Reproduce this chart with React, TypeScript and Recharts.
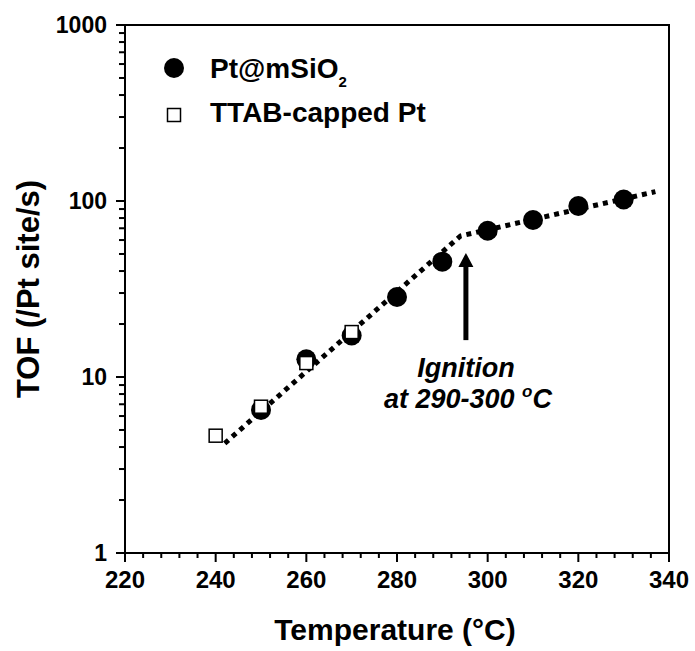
import React from 'react';
import {
  ComposedChart, XAxis, YAxis, Line, Scatter, ReferenceArea, ReferenceDot, Legend,
} from 'recharts';

// ---- data ----
const circleTemps = [250, 260, 270, 280, 290, 300, 310, 320, 330];
const circleTOF = [6.5, 12.6, 17.2, 28.5, 45.2, 67.8, 78, 93.7, 102];
const squareTemps = [240, 250, 260, 270];
const squareTOF = [4.64, 6.78, 12.0, 18.0];
const fitTemps = [242, 294, 337];
const fitTOF = [4.2, 63.3, 113];
const arrowTemps = [295.2, 295.2];
const arrowTOF = [16.2, 43];
const arrowTipTOF = 50.7;
const annotTemp = 295.2;
const annotTOF = [10, 6.67];

const xMajorTicks = [220, 240, 260, 280, 300, 320, 340];
const xAllTicks = [220, 224, 228, 232, 236, 240, 244, 248, 252, 256, 260, 264, 268, 272, 276, 280, 284, 288, 292, 296, 300, 304, 308, 312, 316, 320, 324, 328, 332, 336, 340];
const yMajorTicks = [1, 10, 100, 1000];
const yAllTicks = [1, 2, 3, 4, 5, 6, 7, 8, 9, 10, 20, 30, 40, 50, 60, 70, 80, 90, 100, 200, 300, 400, 500, 600, 700, 800, 900, 1000];

const seriesNames = ['Pt@mSiO', 'TTAB-capped Pt'];
const xTitle = 'Temperature (°C)';
const yTitle = 'TOF (/Pt site/s)';

const circleData = circleTemps.map((t, i) => ({ t, v: circleTOF[i] }));
const squareData = squareTemps.map((t, i) => ({ t, v: squareTOF[i] }));
const fitData = fitTemps.map((t, i) => ({ t, v: fitTOF[i] }));
const arrowData = arrowTemps.map((t, i) => ({ t, v: arrowTOF[i] }));
const arrowTipData = [{ t: annotTemp, v: arrowTipTOF }];
const annot1 = [{ t: annotTemp, v: annotTOF[0] }];
const annot2 = [{ t: annotTemp, v: annotTOF[1] }];
const yTickMarkData = yAllTicks.map((v) => ({ t: 220, v }));

const FONT = '"Liberation Sans", Arial, sans-serif';

const CircleShape = (p: any) => <circle cx={p.cx} cy={p.cy} r={10} fill="#000" />;
const SquareShape = (p: any) => (
  <rect x={p.cx - 6.5} y={p.cy - 6.5} width={13} height={13} fill="#fff" stroke="#000" strokeWidth={1.5} />
);
const ArrowHead = (p: any) => (
  <polygon points={`${p.cx},${p.cy} ${p.cx - 7.5},${p.cy + 14} ${p.cx + 7.5},${p.cy + 14}`} fill="#000" />
);
const YTickMark = (p: any) => {
  const len = yMajorTicks.includes(p.payload.v) ? 9 : 6;
  return <rect x={p.cx - len} y={p.cy - 1} width={len} height={2} fill="#000" />;
};
const Annot1 = (p: any) => (
  <text x={p.cx} y={p.cy} textAnchor="middle" fontFamily={FONT} fontWeight="bold" fontStyle="italic" fontSize={27} fill="#000">
    Ignition
  </text>
);
const Annot2 = (p: any) => (
  <text x={p.cx + 2} y={p.cy} textAnchor="middle" fontFamily={FONT} fontWeight="bold" fontStyle="italic" fontSize={27} fill="#000">
    at 290-300 <tspan dy={-11} fontSize={17}>o</tspan><tspan dy={11}>C</tspan>
  </text>
);

// x ticks: tickSize/tickMargin = 0, so x/y sit on the axis line
const XTick = (p: any) => {
  const v = p.payload.value;
  const major = xMajorTicks.includes(v);
  return (
    <g>
      <rect x={p.x - 1} y={p.y} width={2} height={major ? 9 : 5} fill="#000" />
      {major && (
        <text x={p.x} y={p.y + 35} textAnchor="middle" fontFamily={FONT} fontWeight="bold" fontSize={24} fill="#000">
          {v}
        </text>
      )}
    </g>
  );
};
// y tick labels (marks are drawn by a scatter series at the axis)
const YTick = (p: any) => (
  <text x={p.x - 18} y={p.y + 8} textAnchor="end" fontFamily={FONT} fontWeight="bold" fontSize={23} fill="#000">
    {p.payload.value}
  </text>
);

// legend overlay (also carries the rotated y-axis title)
const renderLegend = () => (
  <svg width={695} height={651} style={{ display: 'block', pointerEvents: 'none' }}>
    <circle cx={174} cy={68} r={10} fill="#000" />
    <text x={210} y={78} fontFamily={FONT} fontWeight="bold" fontSize={28} fill="#000">
      {seriesNames[0]}<tspan dy={9} fontSize={15}>2</tspan>
    </text>
    <rect x={167.5} y={108.5} width={13} height={13} fill="#fff" stroke="#000" strokeWidth={1.5} />
    <text x={210} y={122} fontFamily={FONT} fontWeight="bold" fontSize={28} fill="#000">
      {seriesNames[1]}
    </text>
    <text x={28} y={289} transform="rotate(-90 28 289)" textAnchor="middle" dominantBaseline="central"
      fontFamily={FONT} fontWeight="bold" fontSize={31} fill="#000">
      {yTitle}
    </text>
  </svg>
);

const XTitle = (props: any) => {
  const vb = props.viewBox || {};
  return (
    <text x={vb.x - 2} y={vb.y + 87} textAnchor="middle" fontFamily={FONT} fontWeight="bold" fontSize={30} fill="#000">
      {xTitle}
    </text>
  );
};

export default function App() {
  return (
    <div style={{ position: 'absolute', left: 0, top: 0 }}>
      <ComposedChart width={695} height={651} margin={{ top: 25, right: 26, bottom: 28, left: 35 }}>
        <XAxis type="number" dataKey="t" domain={[220, 340]} ticks={xAllTicks} interval={0} height={70}
          tickSize={0} tickMargin={0} tickLine={false}
          axisLine={{ stroke: '#000', strokeWidth: 2 }} tick={XTick} />
        <YAxis type="number" dataKey="v" scale="log" domain={[1, 1000]} ticks={yMajorTicks} interval={0} width={90}
          tickSize={0} tickMargin={0} tickLine={false}
          axisLine={{ stroke: '#000', strokeWidth: 2 }} tick={YTick} />
        <ReferenceArea x1={220} x2={340} y1={1} y2={1000} fill="none" stroke="#000" strokeWidth={2} />
        <ReferenceDot x={280} y={1} r={0} fill="none" stroke="none" label={{ content: XTitle }} />
        <Scatter data={yTickMarkData} dataKey="v" shape={YTickMark} isAnimationActive={false} legendType="none" />
        <Line data={fitData} dataKey="v" type="linear" stroke="#000" strokeWidth={5} strokeDasharray="5 5"
          dot={false} activeDot={false} isAnimationActive={false} legendType="none" />
        <Line data={arrowData} dataKey="v" type="linear" stroke="#000" strokeWidth={5}
          dot={false} activeDot={false} isAnimationActive={false} legendType="none" />
        <Scatter data={arrowTipData} dataKey="v" shape={ArrowHead} isAnimationActive={false} legendType="none" />
        <Scatter name={seriesNames[0]} data={circleData} dataKey="v" shape={CircleShape} isAnimationActive={false} />
        <Scatter name={seriesNames[1]} data={squareData} dataKey="v" shape={SquareShape} isAnimationActive={false} />
        <Scatter data={annot1} dataKey="v" shape={Annot1} isAnimationActive={false} legendType="none" />
        <Scatter data={annot2} dataKey="v" shape={Annot2} isAnimationActive={false} legendType="none" />
        <Legend content={renderLegend} layout="vertical" verticalAlign="middle" align="center"
          wrapperStyle={{ left: 0, top: 0, width: 695, height: 651, pointerEvents: 'none' }} />
      </ComposedChart>
    </div>
  );
}
